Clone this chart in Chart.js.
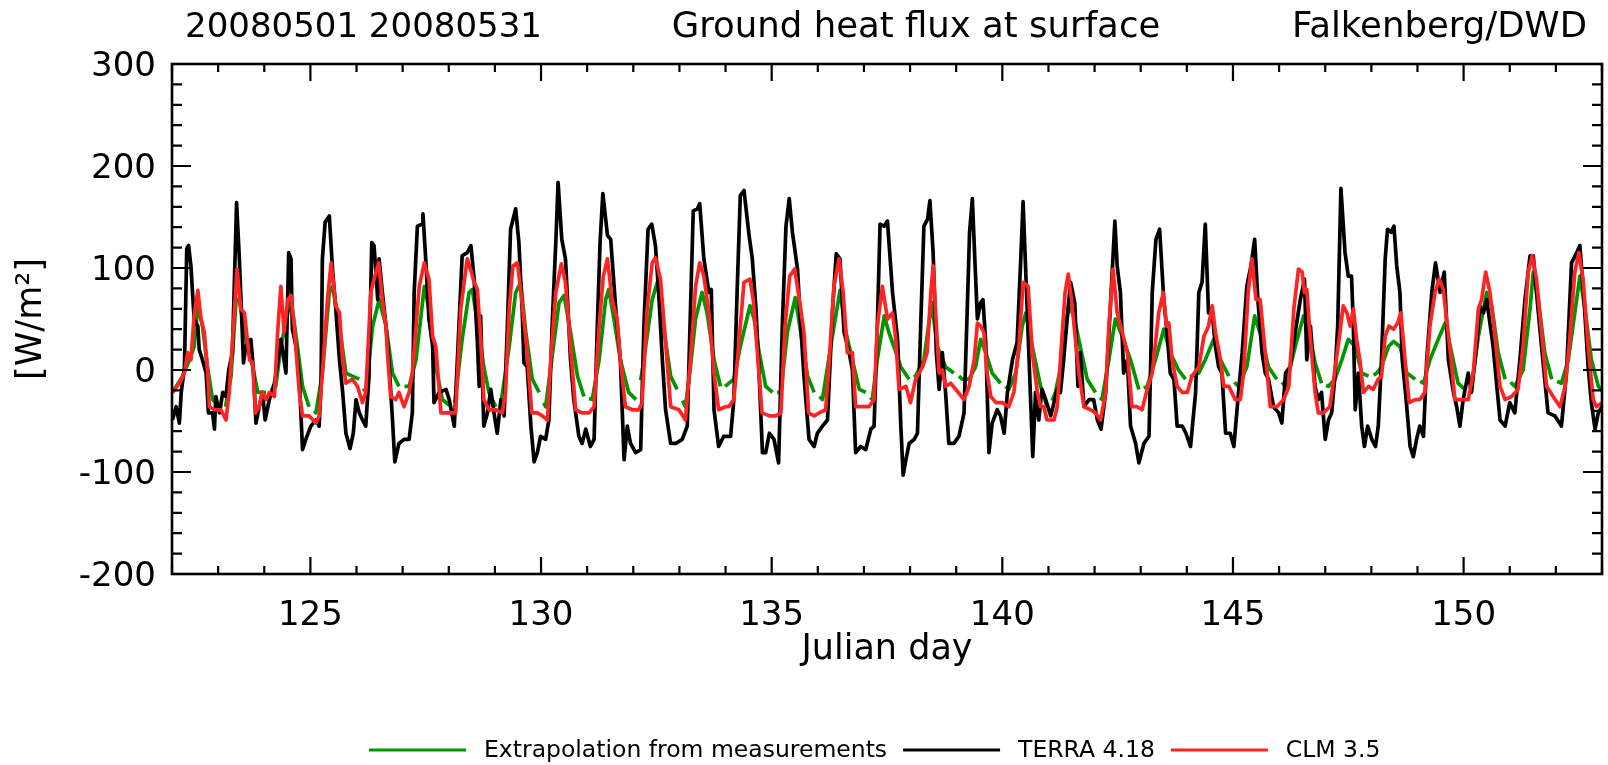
<!DOCTYPE html>
<html>
<head>
<meta charset="utf-8">
<script src="https://cdn.jsdelivr.net/npm/chart.js@4/dist/chart.umd.min.js"></script>
<style>
  html, body { margin: 0; padding: 0; background: #fff; }
  canvas { display: block; }
</style>
</head>
<body>
<canvas id="c" width="1608" height="765"></canvas>
<script>
// ---------- Text ----------
const titleLeft = '20080501 20080531';
const titleCenter = 'Ground heat flux at surface';
const titleRight = 'Falkenberg/DWD';
const xAxisTitle = 'Julian day';
const yAxisTitle = '[W/m²]';
const seriesLabels = ['Extrapolation from measurements', 'TERRA 4.18', 'CLM 3.5'];

// ---------- Axes ----------
const xMin = 122, xMax = 153;
const yMin = -200, yMax = 300;
const xTickLabels = [125, 130, 135, 140, 145, 150];
const yTickLabels = [-200, -100, 0, 100, 200, 300];

// ---------- Data: [Julian day, W/m2] ----------
const extrapolation = [
[122.01,-22],[122.23,-6],[122.38,10],[122.48,23],[122.56,63],[122.66,43],[122.77,3],[122.88,-29],[123.03,-36],[123.10,null],
[123.16,-36],[123.28,-6],[123.39,69],[123.46,69],[123.60,30],[123.75,3],[123.86,-22],[124.04,-22],[124.09,null],
[124.15,-20],[124.25,-16],[124.36,23],[124.51,56],[124.58,69],[124.72,23],[124.83,-16],[124.97,-36],[125.03,null],
[125.08,-40],[125.12,-42],[125.26,-3],[125.41,76],[125.48,82],[125.63,43],[125.77,-3],[125.91,-6],[126.06,-9],[126.10,null],
[126.15,-18],[126.20,-22],[126.35,43],[126.49,69],[126.64,43],[126.78,-3],[126.92,-16],[126.98,null],
[127.04,-16],[127.14,-16],[127.29,10],[127.47,82],[127.57,60],[127.72,3],[127.86,-29],[128.03,-35],[128.08,null],
[128.13,-32],[128.29,30],[128.44,76],[128.51,79],[128.62,46],[128.76,3],[128.87,-22],[129.02,-36],[129.07,null],
[129.12,-36],[129.31,23],[129.45,76],[129.56,86],[129.67,37],[129.81,-9],[129.96,-22],[130.01,null],
[130.06,-32],[130.10,-36],[130.24,13],[130.39,66],[130.50,73],[130.64,37],[130.79,-6],[130.93,-26],[130.98,null],
[131.04,-28],[131.11,-29],[131.26,10],[131.40,69],[131.47,79],[131.58,50],[131.72,10],[131.90,-22],[132.06,-29],[132.11,null],
[132.16,-10],[132.23,10],[132.41,69],[132.52,86],[132.63,50],[132.81,-6],[132.95,-19],[133.01,null],
[133.07,-30],[133.13,-36],[133.24,3],[133.35,50],[133.49,76],[133.60,56],[133.75,10],[133.89,-16],[133.94,null],
[133.99,-16],[134.18,-9],[134.32,23],[134.53,63],[134.62,50],[134.73,17],[134.87,-16],[135.02,-22],[135.07,null],
[135.12,-22],[135.20,-22],[135.34,37],[135.51,71],[135.63,37],[135.78,-6],[135.92,-22],[135.98,null],
[136.04,-26],[136.10,-29],[136.28,23],[136.48,78],[136.61,37],[136.75,10],[136.90,-19],[137.04,-22],[137.09,null],
[137.14,-27],[137.18,-29],[137.29,10],[137.44,53],[137.54,37],[137.65,23],[137.80,3],[137.98,-9],[138.03,null],
[138.08,-7],[138.12,-6],[138.30,10],[138.47,66],[138.59,23],[138.77,3],[138.95,-3],[139.00,null],
[139.06,-6],[139.13,-9],[139.28,-9],[139.42,3],[139.53,30],[139.64,17],[139.78,-3],[139.96,-13],[140.01,null],
[140.07,-16],[140.14,-19],[140.29,-3],[140.43,43],[140.51,56],[140.65,23],[140.83,-16],[140.97,-36],[141.02,null],
[141.08,-30],[141.15,-22],[141.30,10],[141.44,63],[141.55,53],[141.69,23],[141.84,-9],[142.02,-22],[142.07,null],
[142.12,-27],[142.16,-29],[142.31,10],[142.45,50],[142.60,33],[142.78,10],[142.96,-19],[143.01,null],
[143.07,-18],[143.14,-16],[143.32,10],[143.50,40],[143.64,17],[143.82,0],[143.97,-9],[144.02,null],
[144.07,-7],[144.11,-6],[144.26,-3],[144.40,10],[144.58,30],[144.73,10],[144.91,-6],[144.97,null],
[145.03,-12],[145.12,-16],[145.30,3],[145.47,53],[145.63,30],[145.77,3],[145.95,-9],[146.00,null],
[146.06,-12],[146.14,-16],[146.35,23],[146.53,53],[146.68,30],[146.78,7],[146.92,-13],[146.97,null],
[147.02,-15],[147.07,-16],[147.21,-9],[147.36,10],[147.50,30],[147.65,23],[147.79,-3],[147.94,-6],[147.99,null],
[148.05,-5],[148.12,-3],[148.22,3],[148.37,23],[148.48,28],[148.62,23],[148.77,-3],[148.95,-9],[149.00,null],
[149.06,-11],[149.13,-13],[149.27,10],[149.45,30],[149.60,46],[149.74,17],[149.88,-13],[150.03,-19],[150.08,null],
[150.13,-18],[150.17,-16],[150.32,33],[150.50,76],[150.61,63],[150.75,17],[150.90,-9],[150.96,null],
[151.02,-12],[151.11,-16],[151.29,0],[151.44,60],[151.51,96],[151.62,69],[151.76,17],[151.91,-9],[151.97,null],
[152.03,-11],[152.12,-13],[152.27,10],[152.41,56],[152.52,92],[152.63,60],[152.77,10],[152.92,-16],[153.00,-20]
];

const terra = [
[122.01,-49],[122.09,-36],[122.16,-52],[122.20,-22],[122.27,3],[122.32,119],[122.36,122],[122.41,102],[122.48,50],[122.56,43],[122.59,20],[122.66,10],[122.74,-3],[122.79,-42],[122.88,-42],[122.92,-58],[122.95,-26],
[123.03,-42],[123.10,-22],[123.17,-26],[123.23,0],[123.31,17],[123.40,164],[123.46,109],[123.55,7],[123.60,23],[123.71,30],[123.76,3],[123.82,-52],[123.89,-36],[123.96,-22],
[124.02,-49],[124.11,-29],[124.22,-13],[124.29,7],[124.36,30],[124.47,-3],[124.53,115],[124.58,109],[124.61,40],[124.69,23],[124.76,-9],[124.83,-78],[124.90,-68],
[125.01,-55],[125.12,-49],[125.19,-55],[125.23,-16],[125.26,109],[125.32,145],[125.41,151],[125.48,99],[125.55,60],[125.63,10],[125.70,-22],[125.77,-62],[125.86,-77],[125.93,-62],[125.99,-29],
[126.06,-42],[126.13,-49],[126.20,-55],[126.27,-6],[126.33,125],[126.38,122],[126.46,69],[126.49,109],[126.56,76],[126.64,43],[126.71,3],[126.78,-49],[126.83,-90],[126.92,-72],
[127.03,-68],[127.14,-68],[127.21,-42],[127.25,76],[127.32,141],[127.42,143],[127.44,153],[127.50,109],[127.57,50],[127.65,23],[127.68,-32],[127.79,-22],[127.94,-19],
[128.01,-29],[128.12,-55],[128.22,43],[128.29,112],[128.40,115],[128.48,122],[128.55,89],[128.62,27],[128.66,-16],[128.69,53],[128.76,-55],[128.84,-42],[128.91,-19],[128.98,-42],
[129.05,-62],[129.13,-29],[129.20,-45],[129.27,43],[129.34,138],[129.45,158],[129.52,125],[129.59,60],[129.63,7],[129.70,3],[129.78,-55],[129.85,-90],[129.92,-81],[129.99,-65],
[130.10,-68],[130.17,-49],[130.24,43],[130.32,125],[130.37,184],[130.45,128],[130.53,109],[130.64,10],[130.71,-29],[130.82,-65],[130.89,-72],[130.97,-58],
[131.07,-75],[131.15,-68],[131.22,43],[131.28,125],[131.34,173],[131.44,132],[131.51,128],[131.62,60],[131.72,10],[131.80,-88],[131.87,-55],[131.94,-72],
[132.05,-81],[132.16,-78],[132.23,43],[132.32,138],[132.40,143],[132.48,122],[132.55,76],[132.63,10],[132.70,-39],[132.81,-72],[132.92,-72],
[133.06,-68],[133.17,-55],[133.24,60],[133.30,156],[133.39,158],[133.44,163],[133.53,109],[133.64,76],[133.69,79],[133.75,-39],[133.85,-75],[133.96,-65],
[134.11,-65],[134.18,-29],[134.25,76],[134.32,171],[134.40,176],[134.51,132],[134.58,109],[134.66,60],[134.73,-6],[134.80,-81],[134.87,-81],[134.95,-62],
[135.05,-68],[135.15,-91],[135.23,43],[135.31,141],[135.38,168],[135.45,135],[135.56,99],[135.63,43],[135.70,-6],[135.81,-68],[135.92,-75],[135.99,-62],
[136.10,-55],[136.21,-49],[136.32,60],[136.40,114],[136.48,109],[136.57,37],[136.68,17],[136.75,0],[136.82,-81],[136.93,-75],
[137.04,-78],[137.15,-58],[137.22,-55],[137.29,43],[137.35,143],[137.44,141],[137.51,146],[137.62,76],[137.73,30],[137.80,-55],[137.85,-103],[137.91,-88],[137.98,-72],
[138.09,-68],[138.16,-62],[138.23,43],[138.30,141],[138.38,148],[138.43,166],[138.50,115],[138.57,17],[138.63,-19],[138.70,17],[138.77,-22],[138.84,-72],[138.95,-72],
[139.06,-65],[139.17,-42],[139.24,60],[139.29,135],[139.35,168],[139.41,102],[139.46,50],[139.53,66],[139.58,69],[139.64,27],[139.71,-81],[139.78,-52],[139.89,-39],[139.96,-45],
[140.04,-62],[140.11,-22],[140.22,10],[140.32,27],[140.40,109],[140.45,165],[140.52,82],[140.58,10],[140.66,-85],[140.72,-22],[140.79,-49],[140.86,-19],[140.94,-29],
[141.05,-45],[141.12,-32],[141.19,-19],[141.26,-22],[141.33,10],[141.41,53],[141.48,86],[141.57,66],[141.64,-16],[141.69,17],[141.77,-36],[141.88,-29],[141.98,-29],
[142.06,-49],[142.14,-58],[142.24,-22],[142.34,60],[142.44,146],[142.49,102],[142.56,76],[142.63,-3],[142.71,10],[142.78,-55],[142.89,-72],[142.96,-91],
[143.07,-72],[143.18,-65],[143.25,76],[143.33,128],[143.41,138],[143.50,69],[143.57,37],[143.64,-3],[143.72,-9],[143.79,-55],[143.90,-55],[143.98,-62],
[144.08,-75],[144.19,-22],[144.26,76],[144.33,86],[144.40,143],[144.47,56],[144.55,56],[144.62,23],[144.69,3],[144.76,-3],[144.84,-62],[144.94,-62],
[145.02,-75],[145.12,-22],[145.20,17],[145.30,82],[145.39,102],[145.47,128],[145.54,69],[145.63,17],[145.70,-3],[145.77,-9],[145.88,-36],[145.99,-42],
[146.06,-52],[146.14,-3],[146.24,3],[146.35,37],[146.46,69],[146.55,89],[146.60,10],[146.68,43],[146.78,-16],[146.85,-29],[146.92,-22],
[147.00,-68],[147.07,-49],[147.14,-42],[147.21,-6],[147.27,43],[147.34,178],[147.43,115],[147.50,92],[147.57,92],[147.61,43],[147.65,-39],[147.72,-3],[147.79,-55],[147.85,-75],[147.92,-55],
[148.01,-68],[148.09,-75],[148.15,-55],[148.22,10],[148.30,109],[148.35,138],[148.43,135],[148.49,141],[148.55,102],[148.62,76],[148.67,10],[148.74,-22],[148.84,-75],[148.91,-85],[148.98,-68],
[149.05,-55],[149.13,-65],[149.20,10],[149.31,76],[149.39,105],[149.49,76],[149.58,96],[149.67,10],[149.78,-22],[149.85,-36],[149.92,-55],[149.99,-29],
[150.10,-3],[150.17,-22],[150.28,23],[150.35,63],[150.43,56],[150.50,69],[150.57,46],[150.64,23],[150.72,-16],[150.79,-49],[150.90,-55],
[151.00,-32],[151.11,-42],[151.22,10],[151.33,69],[151.44,112],[151.51,112],[151.58,76],[151.69,23],[151.83,-42],[151.98,-45],
[152.12,-55],[152.23,-3],[152.34,105],[152.45,115],[152.52,122],[152.61,69],[152.70,3],[152.77,-32],[152.85,-58],[152.92,-42],[153.00,-36]
];

const clm = [
[122.01,-22],[122.16,-13],[122.27,-3],[122.34,17],[122.41,10],[122.48,53],[122.56,78],[122.63,50],[122.70,37],[122.77,0],[122.81,-36],[122.92,-39],
[123.06,-39],[123.17,-49],[123.24,-22],[123.31,27],[123.41,99],[123.49,60],[123.57,56],[123.68,10],[123.75,7],[123.81,-42],[123.89,-36],[123.96,-22],
[124.04,-29],[124.11,-22],[124.22,-26],[124.29,37],[124.36,82],[124.43,37],[124.51,69],[124.58,73],[124.65,43],[124.76,-22],[124.83,-45],[124.97,-45],
[125.12,-52],[125.19,-45],[125.26,-3],[125.37,69],[125.45,105],[125.55,63],[125.63,56],[125.70,10],[125.77,-13],[125.91,-9],
[126.02,-16],[126.13,-32],[126.20,-22],[126.31,76],[126.38,89],[126.48,105],[126.56,69],[126.64,43],[126.67,17],[126.74,-26],[126.85,-29],[126.92,-22],
[127.03,-36],[127.14,-22],[127.21,-3],[127.36,82],[127.47,105],[127.57,89],[127.65,33],[127.72,23],[127.83,-42],[127.94,-42],
[128.08,-42],[128.15,-42],[128.26,60],[128.40,109],[128.47,99],[128.55,86],[128.62,79],[128.69,33],[128.76,-29],[128.87,-39],
[129.02,-39],[129.16,-42],[129.23,-22],[129.31,60],[129.39,102],[129.49,105],[129.59,66],[129.70,17],[129.80,-42],[129.92,-42],
[130.03,-45],[130.14,-49],[130.21,10],[130.32,76],[130.44,104],[130.53,86],[130.64,23],[130.75,-39],[130.89,-42],
[131.04,-42],[131.15,-36],[131.26,43],[131.35,92],[131.44,109],[131.54,69],[131.65,50],[131.72,10],[131.83,-36],[131.98,-39],
[132.12,-39],[132.19,-32],[132.30,60],[132.41,105],[132.48,110],[132.59,89],[132.70,27],[132.81,-36],[132.99,-39],
[133.13,-49],[133.24,10],[133.35,82],[133.44,105],[133.53,92],[133.64,56],[133.75,-3],[133.85,-39],
[134.00,-36],[134.07,-36],[134.18,-29],[134.29,27],[134.40,86],[134.53,89],[134.60,69],[134.69,17],[134.79,-42],[134.95,-45],
[135.09,-45],[135.20,-42],[135.29,43],[135.39,92],[135.50,99],[135.60,69],[135.70,37],[135.80,-42],[135.92,-45],
[136.03,-42],[136.17,-39],[136.25,10],[136.35,82],[136.46,109],[136.55,76],[136.64,17],[136.75,17],[136.82,-36],[136.97,-36],
[137.11,-36],[137.22,-29],[137.29,43],[137.40,82],[137.51,50],[137.62,56],[137.69,30],[137.76,-19],[137.91,-16],
[138.01,-32],[138.12,-9],[138.27,3],[138.37,17],[138.45,76],[138.50,102],[138.57,43],[138.63,-3],[138.70,0],[138.77,-16],[138.88,-13],[138.99,-19],
[139.17,-29],[139.28,-16],[139.39,10],[139.46,46],[139.53,43],[139.60,37],[139.67,-3],[139.75,-26],[139.86,-32],
[140.00,-32],[140.14,-36],[140.25,-22],[140.36,23],[140.45,86],[140.56,82],[140.65,17],[140.76,-22],[140.83,-36],[140.90,-36],[140.97,-49],
[141.12,-49],[141.19,-36],[141.26,10],[141.36,76],[141.43,94],[141.50,69],[141.57,37],[141.66,-3],[141.77,-36],[141.91,-39],
[142.02,-42],[142.13,-49],[142.24,-22],[142.31,43],[142.40,99],[142.49,56],[142.60,37],[142.71,17],[142.81,-36],[142.92,-36],
[143.03,-39],[143.14,-19],[143.25,-3],[143.39,56],[143.49,76],[143.56,43],[143.61,46],[143.68,10],[143.79,-16],[143.90,-22],
[144.01,-22],[144.11,-6],[144.26,3],[144.37,33],[144.47,43],[144.55,63],[144.62,37],[144.73,10],[144.80,-16],[144.91,-16],
[145.05,-29],[145.16,-29],[145.23,-3],[145.33,76],[145.41,109],[145.50,69],[145.59,69],[145.70,17],[145.81,-36],[145.95,-36],
[146.10,-29],[146.21,-16],[146.32,60],[146.42,99],[146.50,96],[146.55,76],[146.60,79],[146.68,30],[146.78,-22],[146.85,-42],[146.96,-42],
[147.10,-36],[147.21,0],[147.32,37],[147.39,63],[147.47,56],[147.54,43],[147.61,60],[147.68,30],[147.75,10],[147.83,-22],[147.94,-16],
[148.04,-19],[148.15,-9],[148.22,-6],[148.30,33],[148.38,43],[148.48,40],[148.57,46],[148.64,56],[148.73,10],[148.82,-32],[148.95,-29],
[149.05,-29],[149.16,-22],[149.27,43],[149.38,76],[149.47,89],[149.56,79],[149.63,50],[149.73,10],[149.81,-29],[149.96,-29],
[150.10,-29],[150.21,-3],[150.32,60],[150.39,69],[150.48,96],[150.57,76],[150.68,33],[150.79,-16],[150.90,-29],
[151.04,-26],[151.18,-19],[151.29,23],[151.40,96],[151.49,112],[151.58,89],[151.69,37],[151.80,-16],[151.94,-26],
[152.09,-36],[152.20,-16],[152.30,30],[152.41,96],[152.50,115],[152.59,89],[152.70,23],[152.81,-29],[152.88,-36],[153.00,-32]
];

// ---------- Chart ----------
const FONT = '"DejaVu Sans", "Liberation Sans", sans-serif';
Chart.defaults.font.family = FONT;
Chart.defaults.color = '#000';

const toXY = arr => arr.map(([d, v]) => ({ x: d, y: v }));

const framePlugin = {
  id: 'frame',
  afterDatasetsDraw(chart) {
    const { ctx, chartArea: a, scales: { x, y } } = chart;
    ctx.save();
    ctx.strokeStyle = '#000';
    ctx.lineWidth = 2.6;
    ctx.strokeRect(a.left, a.top, a.right - a.left, a.bottom - a.top);
    ctx.lineWidth = 2.2;
    ctx.beginPath();
    for (let d = xMin; d <= xMax; d++) {
      const px = x.getPixelForValue(d);
      const L = d % 5 === 0 ? 17 : 8;
      ctx.moveTo(px, a.bottom); ctx.lineTo(px, a.bottom - L);
      ctx.moveTo(px, a.top); ctx.lineTo(px, a.top + L);
    }
    for (let v = yMin; v <= yMax; v += 20) {
      const py = y.getPixelForValue(v);
      const L = v % 100 === 0 ? 19 : 10;
      ctx.moveTo(a.left, py); ctx.lineTo(a.left + L, py);
      ctx.moveTo(a.right, py); ctx.lineTo(a.right - L, py);
    }
    ctx.stroke();
    ctx.restore();
  }
};

const titlePlugin = {
  id: 'titles',
  afterDraw(chart) {
    const ctx = chart.ctx;
    ctx.save();
    ctx.fillStyle = '#000';
    ctx.textBaseline = 'alphabetic';
    ctx.font = '34px ' + FONT;
    ctx.textAlign = 'left';
    ctx.fillText(titleLeft, 185, 37);
    ctx.font = '35.5px ' + FONT;
    ctx.textAlign = 'center';
    ctx.fillText(titleCenter, 916, 37);
    ctx.textAlign = 'right';
    ctx.fillText(titleRight, 1587, 37);
    ctx.restore();
  }
};

const legendPlugin = {
  id: 'bottomLegend',
  afterDraw(chart) {
    const ctx = chart.ctx;
    ctx.save();
    ctx.font = '23.5px ' + FONT;
    ctx.textBaseline = 'middle';
    ctx.textAlign = 'left';
    let x = 369;
    const y = 750;
    chart.data.datasets.forEach(ds => {
      ctx.strokeStyle = ds.borderColor;
      ctx.lineWidth = 3.2;
      ctx.setLineDash([]);
      ctx.beginPath();
      ctx.moveTo(x, y); ctx.lineTo(x + 97, y);
      ctx.stroke();
      ctx.fillStyle = '#000';
      ctx.fillText(ds.label, x + 115, y + 1);
      x += 115 + ctx.measureText(ds.label).width + 16;
    });
    ctx.restore();
  }
};

new Chart(document.getElementById('c'), {
  type: 'line',
  data: {
    datasets: [
      { label: seriesLabels[0], data: toXY(extrapolation), borderColor: '#009600', order: 3 },
      { label: seriesLabels[1], data: toXY(terra), borderColor: '#000000', order: 2 },
      { label: seriesLabels[2], data: toXY(clm), borderColor: '#ff2424', order: 1 }
    ]
  },
  options: {
    responsive: false,
    animation: false,
    devicePixelRatio: 1,
    spanGaps: false,
    elements: {
      point: { radius: 0, hoverRadius: 0 },
      line: { borderWidth: 3.7, tension: 0, fill: false, borderCapStyle: 'butt', borderJoinStyle: 'round' }
    },
    layout: { padding: { left: 0, right: 6, top: 64, bottom: 0 } },
    plugins: { legend: { display: false }, tooltip: { enabled: false }, title: { display: false } },
    scales: {
      x: {
        type: 'linear',
        min: xMin, max: xMax,
        afterBuildTicks: s => { s.ticks = xTickLabels.map(v => ({ value: v })); },
        afterFit: s => { s.height = 191; },
        ticks: { font: { size: 34 }, color: '#000', padding: 22, autoSkip: false, maxRotation: 0 },
        grid: { display: false, drawTicks: false },
        border: { display: false },
        title: { display: true, text: xAxisTitle, font: { size: 35 }, color: '#000', padding: { top: 0, bottom: 94 } }
      },
      y: {
        type: 'linear',
        min: yMin, max: yMax,
        afterBuildTicks: s => { s.ticks = yTickLabels.map(v => ({ value: v })); },
        afterFit: s => { s.width = 172; },
        ticks: { font: { size: 34 }, color: '#000', padding: 16, labelOffset: 3 },
        grid: { display: false, drawTicks: false },
        border: { display: false },
        title: { display: true, text: yAxisTitle, font: { size: 35 }, color: '#000', padding: { top: 11, bottom: 0 } }
      }
    }
  },
  plugins: [framePlugin, titlePlugin, legendPlugin]
});
</script>
</body>
</html>
